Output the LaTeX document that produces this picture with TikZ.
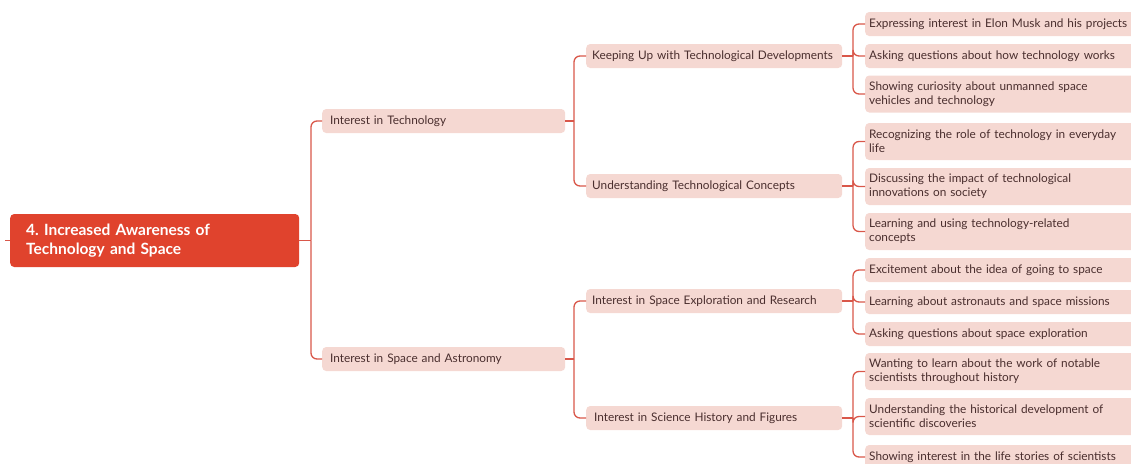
\documentclass[tikz,border=0pt]{standalone}
\usepackage{fontspec}
\setmainfont{Lato}
\frenchspacing
\definecolor{rootred}{HTML}{E0432D}
\definecolor{boxpink}{HTML}{F5D8D2}
\definecolor{linered}{HTML}{D9574A}
\definecolor{txt}{HTML}{4A2E2E}
\tikzset{
  conn/.style={draw=linered, line width=1.3pt},
  rootbox/.style={fill=rootred, text=white, rounded corners=4pt, anchor=west,
    font=\fontsize{15.5}{19}\selectfont\bfseries, align=left, text width=257pt,
    inner xsep=16pt, minimum height=53pt},
  midbox/.style={fill=boxpink, text=txt, rounded corners=4pt, anchor=west,
    font=\fontsize{11.8}{14}\selectfont, align=left, minimum height=24pt, inner ysep=3pt},
  lvlone/.style={midbox, text width=227pt, inner xsep=8pt},
  lvltwo/.style={midbox, text width=244pt, inner xsep=6pt},
  leaf/.style={midbox, text width=300pt, inner xsep=4pt},
  leaftwo/.style={leaf, minimum height=37pt},
}
\begin{document}
\begin{tikzpicture}[x=1pt,y=-1pt]
\useasboundingbox (0,0) rectangle (1131,463);
\clip (0,0) rectangle (1131,463);
% root
\node[rootbox] (root) at (10,240.5) {4. Increased Awareness of\\Technology and Space};
\coordinate (stub) at (5,240.5);
% level 1
\node[lvlone] (t) at (322,121) {Interest in Technology};
\node[lvlone] (s) at (322,359) {Interest in Space and Astronomy};
% level 2
\node[lvltwo] (t1) at (586,56) {Keeping Up with Technological Developments};
\node[lvltwo] (t2) at (586,186) {Understanding Technological Concepts};
\node[lvltwo] (s1) at (586,301) {Interest in Space Exploration and Research};
\node[lvltwo] (s2) at (586,418) {\,Interest in Science History and Figures};
% leaves
\node[leaf] (a1) at (865,24) {Expressing interest in Elon Musk and his projects};
\node[leaf] (a2) at (865,56) {Asking questions about how technology works};
\node[leaftwo] (a3) at (865,94) {Showing curiosity about unmanned space\\vehicles and technology};
\node[leaftwo] (b1) at (865,141.5) {Recognizing the role of technology in everyday\\life};
\node[leaftwo] (b2) at (865,186.5) {Discussing the impact of technological\\innovations on society};
\node[leaftwo] (b3) at (865,231.5) {Learning and using technology-related\\concepts};
\node[leaf] (c1) at (865,270) {Excitement about the idea of going to space};
\node[leaf] (c2) at (865,302) {Learning about astronauts and space missions};
\node[leaf] (c3) at (865,334) {Asking questions about space exploration};
\node[leaftwo] (d1) at (865,371.5) {Wanting to learn about the work of notable\\scientists throughout history};
\node[leaftwo] (d2) at (865,416.5) {Understanding the historical development of\\scientific discoveries};
\node[leaf] (d3) at (865,457) {Showing interest in the life stories of scientists};
% junction coordinates
\coordinate (jr) at (311,240.5);
\coordinate (jt) at (574,121);
\coordinate (js) at (574,359);
\coordinate (jt1) at (853,56);
\coordinate (jt2) at (853,186);
\coordinate (js1) at (853,301);
\coordinate (js2) at (853,418);
% connectors
\draw[conn] (stub) -- (root.west);
\draw[conn] (root.east) -- (jr);
\foreach \c in {t,s} \draw[conn, rounded corners=6pt] (jr) |- (\c.west);
\draw[conn] (t.east) -- (jt);
\draw[conn] (s.east) -- (js);
\foreach \c in {t1,t2} \draw[conn, rounded corners=6pt] (jt) |- (\c.west);
\foreach \c in {s1,s2} \draw[conn, rounded corners=6pt] (js) |- (\c.west);
\draw[conn] (t1.east) -- (jt1);
\draw[conn] (t2.east) -- (jt2);
\draw[conn] (s1.east) -- (js1);
\draw[conn] (s2.east) -- (js2);
\foreach \c in {a1,a2,a3} \draw[conn, rounded corners=6pt] (jt1) |- (\c.west);
\foreach \c in {b1,b2,b3} \draw[conn, rounded corners=6pt] (jt2) |- (\c.west);
\foreach \c in {c1,c2,c3} \draw[conn, rounded corners=6pt] (js1) |- (\c.west);
\foreach \c in {d1,d2,d3} \draw[conn, rounded corners=6pt] (js2) |- (\c.west);
\end{tikzpicture}
\end{document}
